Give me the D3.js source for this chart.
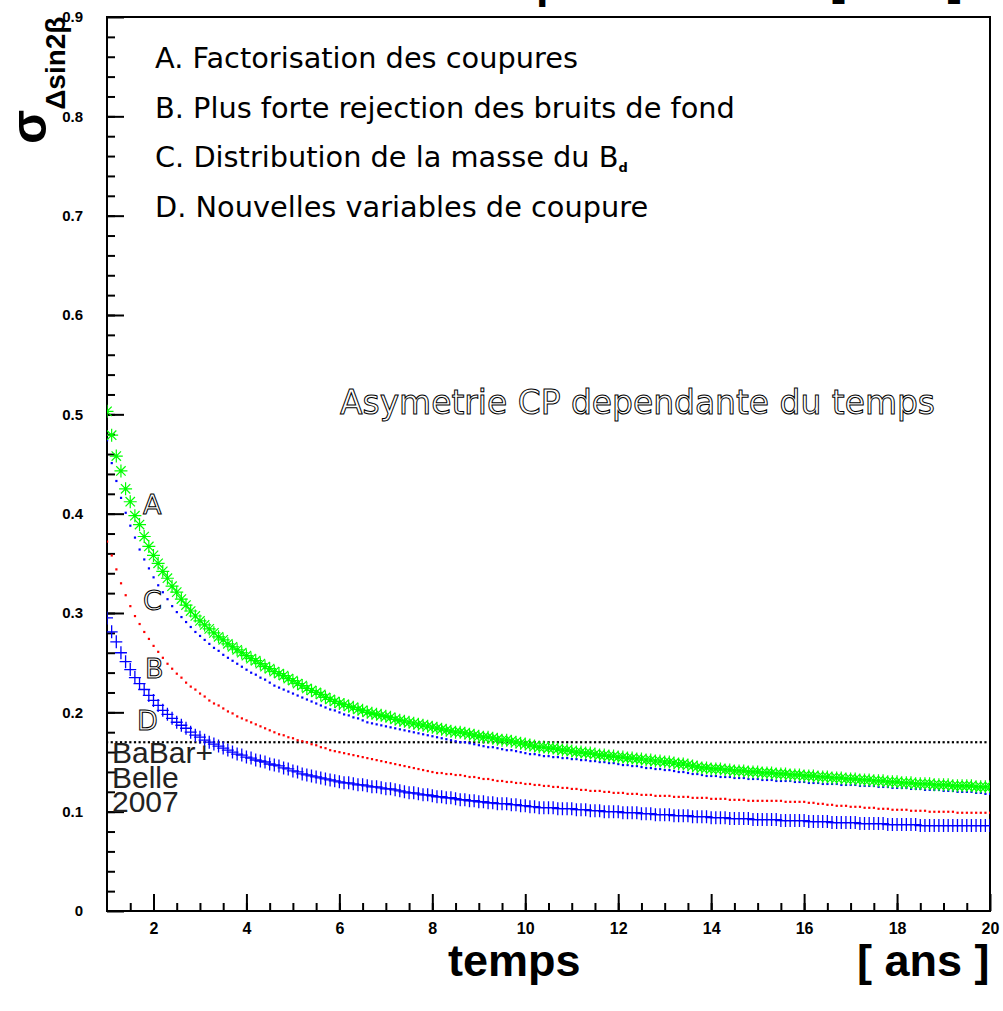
<!DOCTYPE html>
<html>
<head>
<meta charset="utf-8">
<script src="https://cdn.jsdelivr.net/npm/d3@7"></script>
<style>
    html, body { margin: 0; padding: 0; background: #fff; }
    svg { display: block; }
</style>
</head>
<body>
<svg id="chart"></svg>
<script>
// sampling in time: every 0.1 year from 1 to 20
const temps = d3.range(10, 201).map((i) => i / 10);

// A. Factorisation des coupures (green stars)
const sigmaA = [0.503,
    0.479, 0.458, 0.443, 0.425, 0.412, 0.398, 0.389, 0.377, 0.367, 0.358,
    0.350, 0.342, 0.335, 0.327, 0.321, 0.314, 0.308, 0.302, 0.297, 0.292,
    0.288, 0.284, 0.280, 0.276, 0.273, 0.269, 0.266, 0.263, 0.260, 0.257,
    0.254, 0.252, 0.249, 0.246, 0.244, 0.241, 0.239, 0.237, 0.234, 0.232,
    0.229, 0.227, 0.224, 0.222, 0.220, 0.218, 0.215, 0.213, 0.211, 0.209,
    0.208, 0.206, 0.205, 0.203, 0.202, 0.200, 0.199, 0.198, 0.197, 0.196,
    0.195, 0.193, 0.192, 0.191, 0.190, 0.189, 0.188, 0.187, 0.186, 0.185,
    0.184, 0.183, 0.182, 0.181, 0.180, 0.180, 0.179, 0.178, 0.177, 0.176,
    0.175, 0.175, 0.174, 0.173, 0.172, 0.172, 0.171, 0.170, 0.169, 0.168,
    0.167, 0.166, 0.165, 0.165, 0.164, 0.164, 0.163, 0.162, 0.162, 0.161,
    0.160, 0.160, 0.159, 0.159, 0.158, 0.157, 0.157, 0.156, 0.156, 0.155,
    0.155, 0.154, 0.154, 0.153, 0.153, 0.152, 0.152, 0.151, 0.151, 0.150,
    0.150, 0.149, 0.148, 0.148, 0.147, 0.146, 0.145, 0.144, 0.144, 0.143,
    0.143, 0.143, 0.142, 0.142, 0.141, 0.141, 0.141, 0.140, 0.140, 0.140,
    0.139, 0.139, 0.139, 0.138, 0.138, 0.138, 0.137, 0.137, 0.137, 0.136,
    0.136, 0.136, 0.135, 0.135, 0.135, 0.134, 0.134, 0.134, 0.133, 0.133,
    0.133, 0.132, 0.132, 0.132, 0.131, 0.131, 0.131, 0.130, 0.130, 0.130,
    0.129, 0.129, 0.129, 0.128, 0.128, 0.128, 0.128, 0.127, 0.127, 0.127,
    0.127, 0.126, 0.126, 0.126, 0.126, 0.126, 0.125, 0.125, 0.125, 0.125];

// B. Plus forte rejection des bruits de fond (red dots)
const sigmaB = [0.372,
    0.358, 0.344, 0.330, 0.318, 0.307, 0.297, 0.289, 0.281, 0.274, 0.267,
    0.261, 0.255, 0.249, 0.244, 0.239, 0.235, 0.230, 0.226, 0.223, 0.219,
    0.216, 0.212, 0.209, 0.207, 0.204, 0.201, 0.199, 0.196, 0.194, 0.192,
    0.190, 0.188, 0.186, 0.184, 0.182, 0.180, 0.178, 0.177, 0.175, 0.174,
    0.172, 0.171, 0.170, 0.168, 0.167, 0.165, 0.164, 0.162, 0.161, 0.160,
    0.159, 0.158, 0.157, 0.156, 0.155, 0.154, 0.153, 0.152, 0.151, 0.150,
    0.149, 0.148, 0.147, 0.146, 0.145, 0.144, 0.143, 0.142, 0.141, 0.140,
    0.139, 0.139, 0.138, 0.138, 0.137, 0.137, 0.136, 0.135, 0.135, 0.134,
    0.133, 0.133, 0.132, 0.131, 0.131, 0.130, 0.130, 0.129, 0.129, 0.128,
    0.128, 0.127, 0.127, 0.126, 0.126, 0.125, 0.125, 0.124, 0.124, 0.123,
    0.123, 0.122, 0.122, 0.121, 0.121, 0.121, 0.120, 0.120, 0.119, 0.119,
    0.119, 0.118, 0.118, 0.118, 0.117, 0.117, 0.117, 0.116, 0.116, 0.116,
    0.116, 0.115, 0.115, 0.115, 0.115, 0.114, 0.114, 0.114, 0.114, 0.113,
    0.113, 0.113, 0.113, 0.112, 0.112, 0.112, 0.112, 0.111, 0.111, 0.111,
    0.111, 0.111, 0.111, 0.111, 0.111, 0.110, 0.110, 0.110, 0.110, 0.110,
    0.109, 0.109, 0.108, 0.108, 0.107, 0.107, 0.106, 0.106, 0.106, 0.105,
    0.105, 0.105, 0.104, 0.104, 0.104, 0.103, 0.103, 0.103, 0.102, 0.102,
    0.102, 0.102, 0.101, 0.101, 0.101, 0.101, 0.100, 0.100, 0.100, 0.100,
    0.100, 0.100, 0.099, 0.099, 0.099, 0.099, 0.099, 0.099, 0.099, 0.099];

// C. Distribution de la masse du Bd (blue dots)
const sigmaC = [0.474,
    0.451, 0.433, 0.416, 0.401, 0.388, 0.376, 0.364, 0.354, 0.345, 0.336,
    0.328, 0.321, 0.314, 0.307, 0.301, 0.296, 0.291, 0.286, 0.281, 0.277,
    0.273, 0.269, 0.265, 0.262, 0.258, 0.255, 0.252, 0.249, 0.246, 0.243,
    0.240, 0.238, 0.235, 0.233, 0.230, 0.227, 0.225, 0.223, 0.221, 0.219,
    0.217, 0.215, 0.213, 0.211, 0.209, 0.207, 0.205, 0.203, 0.202, 0.200,
    0.198, 0.197, 0.195, 0.194, 0.192, 0.190, 0.189, 0.188, 0.187, 0.186,
    0.185, 0.184, 0.183, 0.182, 0.181, 0.180, 0.179, 0.178, 0.177, 0.176,
    0.175, 0.174, 0.173, 0.172, 0.171, 0.170, 0.170, 0.169, 0.168, 0.167,
    0.166, 0.165, 0.165, 0.164, 0.163, 0.162, 0.162, 0.161, 0.160, 0.159,
    0.158, 0.158, 0.157, 0.156, 0.156, 0.155, 0.155, 0.154, 0.154, 0.153,
    0.153, 0.152, 0.152, 0.151, 0.151, 0.150, 0.150, 0.149, 0.149, 0.148,
    0.147, 0.147, 0.146, 0.146, 0.145, 0.144, 0.144, 0.143, 0.143, 0.142,
    0.142, 0.141, 0.140, 0.140, 0.139, 0.138, 0.138, 0.137, 0.136, 0.136,
    0.136, 0.135, 0.135, 0.135, 0.134, 0.134, 0.134, 0.133, 0.133, 0.133,
    0.132, 0.132, 0.132, 0.131, 0.131, 0.131, 0.131, 0.130, 0.130, 0.130,
    0.129, 0.129, 0.129, 0.128, 0.128, 0.128, 0.128, 0.127, 0.127, 0.127,
    0.127, 0.126, 0.126, 0.126, 0.126, 0.125, 0.125, 0.125, 0.124, 0.124,
    0.124, 0.124, 0.123, 0.123, 0.123, 0.122, 0.122, 0.122, 0.122, 0.121,
    0.121, 0.121, 0.120, 0.120, 0.120, 0.120, 0.119, 0.119, 0.118, 0.118];

// D. Nouvelles variables de coupure (blue crosses)
const sigmaD = [0.295,
    0.281, 0.271, 0.260, 0.251, 0.243, 0.235, 0.229, 0.223, 0.217, 0.212,
    0.207, 0.202, 0.198, 0.194, 0.190, 0.187, 0.184, 0.180, 0.177, 0.175,
    0.172, 0.170, 0.168, 0.166, 0.164, 0.162, 0.160, 0.158, 0.157, 0.155,
    0.154, 0.152, 0.151, 0.150, 0.148, 0.147, 0.146, 0.144, 0.143, 0.141,
    0.140, 0.138, 0.137, 0.136, 0.135, 0.134, 0.133, 0.132, 0.131, 0.130,
    0.129, 0.129, 0.128, 0.127, 0.127, 0.126, 0.125, 0.125, 0.124, 0.123,
    0.123, 0.122, 0.121, 0.120, 0.119, 0.119, 0.118, 0.117, 0.117, 0.116,
    0.115, 0.115, 0.114, 0.114, 0.113, 0.112, 0.112, 0.111, 0.111, 0.110,
    0.110, 0.109, 0.109, 0.108, 0.108, 0.108, 0.107, 0.107, 0.106, 0.106,
    0.105, 0.105, 0.104, 0.104, 0.104, 0.104, 0.103, 0.103, 0.103, 0.103,
    0.102, 0.102, 0.102, 0.101, 0.101, 0.101, 0.100, 0.100, 0.100, 0.100,
    0.099, 0.099, 0.099, 0.099, 0.098, 0.098, 0.098, 0.097, 0.097, 0.097,
    0.097, 0.096, 0.096, 0.096, 0.096, 0.095, 0.095, 0.095, 0.095, 0.094,
    0.094, 0.094, 0.094, 0.093, 0.093, 0.093, 0.093, 0.093, 0.092, 0.092,
    0.092, 0.092, 0.092, 0.092, 0.091, 0.091, 0.091, 0.091, 0.091, 0.091,
    0.090, 0.090, 0.090, 0.090, 0.090, 0.089, 0.089, 0.089, 0.089, 0.089,
    0.089, 0.088, 0.088, 0.088, 0.088, 0.088, 0.088, 0.087, 0.087, 0.087,
    0.087, 0.087, 0.087, 0.087, 0.086, 0.086, 0.086, 0.086, 0.086, 0.086,
    0.086, 0.086, 0.086, 0.086, 0.086, 0.086, 0.086, 0.086, 0.086, 0.086];

// BaBar+Belle 2007 reference level
const babarBelle2007 = 0.170;

const xMajorTicks = [2, 4, 6, 8, 10, 12, 14, 16, 18, 20];
const yMajorTicks = [0, 0.1, 0.2, 0.3, 0.4, 0.5, 0.6, 0.7, 0.8, 0.9];
const legendLines = [
    "A. Factorisation des coupures",
    "B. Plus forte rejection des bruits de fond",
    "C. Distribution de la masse du B",
    "D. Nouvelles variables de coupure",
];

const config = {
    width: 1003,
    height: 1011,
    margin: { top: 17, right: 13, bottom: 100, left: 107 },
};

const plotW = config.width - config.margin.left - config.margin.right;
const plotH = config.height - config.margin.top - config.margin.bottom;

const xScale = d3.scaleLinear().domain([1, 20]).range([0, plotW]);
const yScale = d3.scaleLinear().domain([0, 0.9]).range([plotH, 0]);

const svg = d3.select("#chart")
    .attr("width", config.width)
    .attr("height", config.height);

const chart = svg.append("g")
    .attr("transform", `translate(${config.margin.left}, ${config.margin.top})`);

chart.append("clipPath")
    .attr("id", "plot-clip")
    .append("rect")
    .attr("width", plotW)
    .attr("height", plotH);

// axes: ticks pointing into the frame
const xMinor = d3.axisBottom(xScale).tickValues(d3.range(1.5, 20, 0.5)).tickSize(-8).tickFormat("");
const xMajor = d3.axisBottom(xScale).tickValues(xMajorTicks).tickSize(-17).tickPadding(12);
const yMinor = d3.axisLeft(yScale).tickValues(d3.range(0.02, 0.9, 0.02)).tickSize(-8).tickFormat("");
const yMajor = d3.axisLeft(yScale).tickValues(yMajorTicks).tickSize(-17).tickPadding(24)
    .tickFormat((d) => d === 0 ? "0" : d3.format(".1f")(d));

[
    [xMinor, true, 16], [xMajor, true, 16],
    [yMinor, false, 15], [yMajor, false, 15],
].forEach(([ax, bottom, size]) => {
    const g = chart.append("g")
        .attr("class", "axis")
        .attr("transform", bottom ? `translate(0, ${plotH})` : null)
        .call(ax)
        .attr("font-size", size)
        .attr("font-family", "'Liberation Sans', Arial, sans-serif")
        .attr("font-weight", "bold");
    g.select(".domain").remove();
    g.selectAll("line").attr("stroke", "#000").attr("stroke-width", 2);
    g.selectAll("text").attr("fill", "#000");
});

// frame
chart.append("rect")
    .attr("width", plotW)
    .attr("height", plotH)
    .attr("fill", "none")
    .attr("stroke", "#000")
    .attr("stroke-width", 2);

const plot = chart.append("g").attr("clip-path", "url(#plot-clip)");

// dotted curves
function dots(values, color) {
    plot.append("g")
        .selectAll("rect")
        .data(values)
        .join("rect")
        .attr("x", (d, i) => xScale(temps[i]) - 1)
        .attr("y", (d) => yScale(d) - 1)
        .attr("width", 2.2)
        .attr("height", 2.2)
        .attr("fill", color);
}

dots(temps.map(() => babarBelle2007), "#000");
dots(sigmaB, "#ff0000");
dots(sigmaC, "#0000ff");

// D: crosses
plot.append("g")
    .selectAll("path")
    .data(sigmaD)
    .join("path")
    .attr("transform", (d, i) => `translate(${xScale(temps[i])}, ${yScale(d)})`)
    .attr("d", "M-6,0H6M0,-6.5V6.5")
    .attr("stroke", "#0000ff")
    .attr("stroke-width", 1.3)
    .attr("fill", "none");

// A: stars
plot.append("g")
    .selectAll("path")
    .data(sigmaA)
    .join("path")
    .attr("transform", (d, i) => `translate(${xScale(temps[i])}, ${yScale(d)})`)
    .attr("d", "M-6.5,0H6.5M0,-6.5V6.5M-4.7,-4.7L4.7,4.7M-4.7,4.7L4.7,-4.7")
    .attr("stroke", "#00ff00")
    .attr("stroke-width", 1.2)
    .attr("fill", "none");

// legend
const legend = svg.append("g")
    .style("font-family", "'DejaVu Sans', sans-serif")
    .style("font-size", "28.8px")
    .attr("fill", "#000");

legend.selectAll("text")
    .data(legendLines)
    .join("text")
    .attr("x", 155)
    .attr("y", (d, i) => 68 + i * 49.7)
    .text((d) => d)
    .filter((d, i) => i === 2)
    .append("tspan")
    .attr("dy", 5)
    .style("font-size", "13px")
    .style("font-weight", "bold")
    .text("d");

// hollow labels
const hollow = svg.append("g")
    .style("font-family", "'DejaVu Sans', sans-serif")
    .attr("fill", "#fff")
    .attr("stroke", "#000")
    .attr("stroke-width", 1);

hollow.append("text")
    .attr("x", 340)
    .attr("y", 414)
    .attr("textLength", 595)
    .attr("lengthAdjust", "spacingAndGlyphs")
    .style("font-size", "34px")
    .text("Asymetrie CP dependante du temps");

const curveLabels = ["A", "C", "B", "D"];
const labelPos = [[143, 514], [143, 610], [145, 678], [137, 730]];
hollow.selectAll(".curve-label")
    .data(curveLabels)
    .join("text")
    .attr("class", "curve-label")
    .attr("x", (d, i) => labelPos[i][0])
    .attr("y", (d, i) => labelPos[i][1])
    .style("font-size", "27px")
    .text((d) => d);

// BaBar+Belle 2007 label
svg.append("g")
    .style("font-family", "'Liberation Sans', Arial, sans-serif")
    .style("font-size", "30px")
    .attr("fill", "#222")
    .selectAll("text")
    .data(["BaBar+", "Belle", "2007"])
    .join("text")
    .attr("x", 112)
    .attr("y", (d, i) => 763 + i * 24.5)
    .text((d) => d);

// axis titles (the top copy is clipped by the page edge)
const titleFont = "'Liberation Sans', Arial, sans-serif";
[[448, 976], [456, -2]].forEach(([x, y]) => {
    svg.append("text")
        .attr("x", x).attr("y", y)
        .style("font-family", titleFont)
        .style("font-weight", "bold")
        .style("font-size", "45px")
        .text("temps");
});
[[857, 976], [830, -5]].forEach(([x, y]) => {
    svg.append("text")
        .attr("x", x).attr("y", y)
        .style("font-family", titleFont)
        .style("font-weight", "bold")
        .style("font-size", "45px")
        .attr("xml:space", "preserve")
        .text("[ ans ]");
});

const yTitle = svg.append("text")
    .attr("transform", "translate(46, 144) rotate(-90)")
    .style("font-family", titleFont)
    .style("font-weight", "bold")
    .style("font-size", "50px");
yTitle.append("tspan").text("σ");
yTitle.append("tspan")
    .attr("dy", 19)
    .style("font-size", "28px")
    .text("Δsin2β");
</script>
</body>
</html>
